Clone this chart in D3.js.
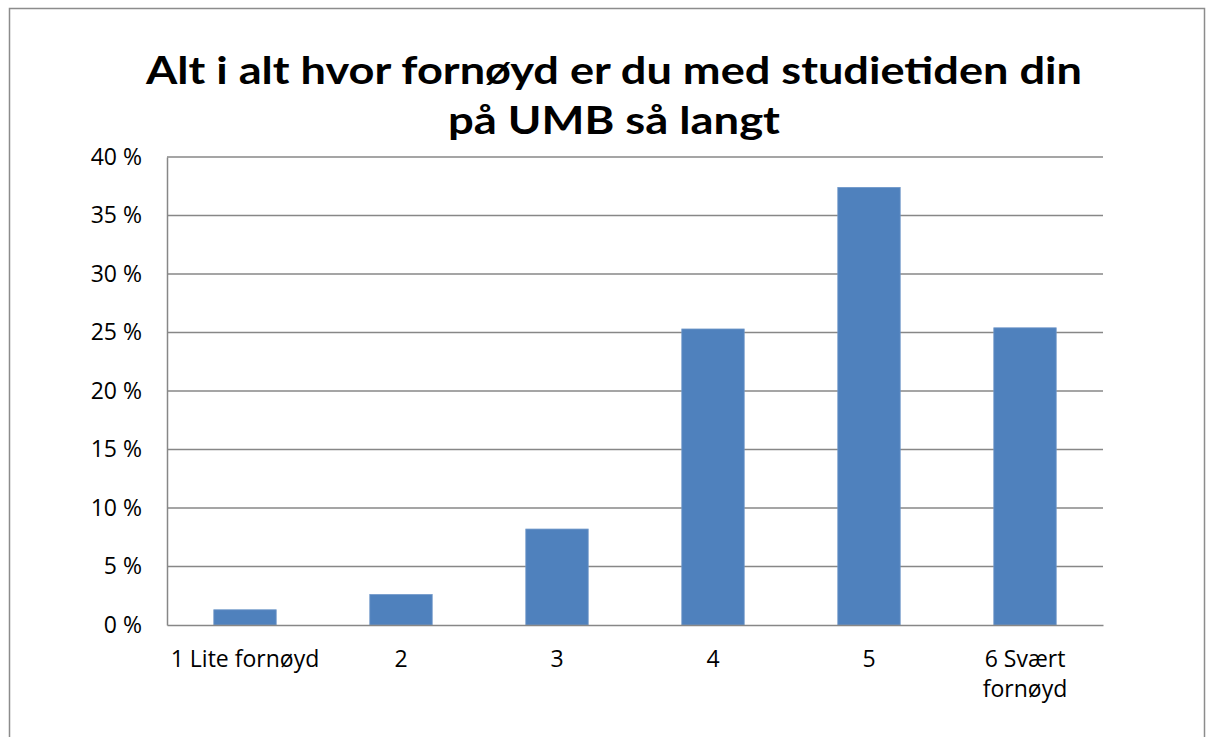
<!DOCTYPE html>
<html>
<head>
<meta charset="utf-8">
<script src="https://cdn.jsdelivr.net/npm/d3@7"></script>
<style>
  body { margin: 0; background: #fff; }
  svg { display: block; font-family: Lato, "Open Sans", sans-serif; }
</style>
</head>
<body>
<div id="chart"></div>
<script>
// data
const categories = ["1 Lite fornøyd", "2", "3", "4", "5", "6 Svært fornøyd"];
const values = [1.3, 2.6, 8.2, 25.3, 37.4, 25.4];
const yTicks = [0, 5, 10, 15, 20, 25, 30, 35, 40];
const titleLines = ["Alt i alt hvor fornøyd er du med studietiden din", "på UMB så langt"];

const W = 1208, H = 737;
const margin = { top: 157, right: 105, bottom: 112, left: 167 };
const width = W - margin.left - margin.right,
  height = H - margin.top - margin.bottom;
const labelFont = "'Open Sans', Lato, sans-serif";

const svg = d3.select("#chart").append("svg")
  .attr("width", W).attr("height", H);

// outer chart frame
svg.append("rect")
  .attr("x", 9.5).attr("y", 8.5)
  .attr("width", 1195).attr("height", 740)
  .attr("fill", "none").attr("stroke", "#8c8c8c").attr("stroke-width", 1.5);

// title
svg.append("g").selectAll("text")
  .data(titleLines)
  .join("text")
  .attr("x", 614)
  .attr("y", (d, i) => 84 + i * 50)
  .attr("text-anchor", "middle")
  .attr("font-weight", "bold")
  .attr("font-size", 38)
  .attr("fill", "#000")
  .attr("textLength", (d, i) => i == 0 ? 936 : 332)
  .attr("lengthAdjust", "spacingAndGlyphs")
  .text(d => d);

const g = svg.append("g")
  .attr("transform", "translate(" + margin.left + "," + margin.top + ")");

const x = d3.scaleBand()
  .domain(categories)
  .range([0, width])
  .paddingInner(0.6)
  .paddingOuter(0.3);

const y = d3.scaleLinear().domain([0, 40]).range([height, 0]);

// gridlines
g.selectAll("line.grid")
  .data(yTicks.slice(1))
  .join("line")
  .attr("class", "grid")
  .attr("x1", 0).attr("x2", width)
  .attr("y1", d => y(d)).attr("y2", d => y(d))
  .attr("stroke", "#878787").attr("stroke-width", 1.5);

// y axis
const yAxis = g.append("g")
  .call(d3.axisLeft(y).tickValues(yTicks).tickSize(0).tickPadding(25).tickFormat(d => d + " %"));
yAxis.attr("font-family", labelFont).attr("font-size", 23);
yAxis.select(".domain").attr("stroke", "#878787").attr("stroke-width", 1.5);
yAxis.selectAll("text").attr("fill", "#000");

// bars
g.selectAll("rect.bar")
  .data(values)
  .join("rect")
  .attr("class", "bar")
  .attr("x", (d, i) => x(categories[i]))
  .attr("width", x.bandwidth())
  .attr("y", d => y(d))
  .attr("height", d => y(0) - y(d))
  .attr("fill", "#4f81bd")
  .attr("stroke", "#6f97c8")
  .attr("stroke-width", 0.8);

// x axis
const xAxis = g.append("g")
  .attr("transform", "translate(0," + height + ")")
  .call(d3.axisBottom(x).tickSize(0).tickFormat(""));
xAxis.attr("font-family", labelFont).attr("font-size", 23);
xAxis.select(".domain").attr("stroke", "#878787").attr("stroke-width", 1.5);

// category labels, wrapped like the original
const wrap = { "6 Svært fornøyd": ["6 Svært", "fornøyd"] };
xAxis.selectAll(".tick").each(function (d) {
  const lines = wrap[d] || [d];
  const t = d3.select(this).append("text")
    .attr("text-anchor", "middle")
    .attr("fill", "#000")
    .attr("y", 42);
  lines.forEach((l, i) => {
    t.append("tspan").attr("x", 0).attr("dy", i == 0 ? 0 : 30).text(l);
  });
});
</script>
</body>
</html>
